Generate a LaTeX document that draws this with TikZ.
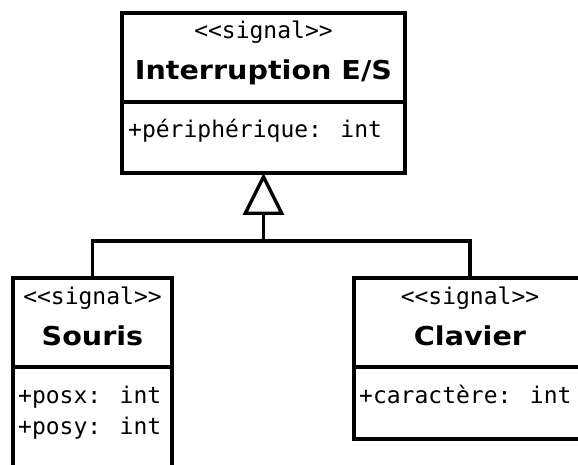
\documentclass[tikz,border=0pt]{standalone}
\usepackage{fontspec}
\setmainfont{DejaVu Sans}
\newfontfamily\umlmono{DejaVu Sans Mono}
\newfontfamily\umlname{DejaVu Sans}[FakeStretch=1.1]
\usetikzlibrary{positioning, calc, arrows.meta}

\newcommand{\sigstereo}{<\kern0pt<signal>\kern0pt>}

\tikzset{
    umlbox/.style={draw, line width=3.4pt, rectangle, inner sep=0pt, outer sep=0pt},
    stereo/.style={font=\umlmono\fontsize{23}{27}\selectfont, anchor=base, inner sep=0pt},
    classname/.style={font=\umlname\bfseries\fontsize{26}{30}\selectfont, anchor=base, inner sep=0pt},
    attr/.style={font=\umlmono\fontsize{23}{27}\selectfont, anchor=base west, inner sep=0pt},
    inherit/.style={line width=3.4pt, -{Triangle[open, length=42pt, width=41pt]}}
}

\begin{document}
\begin{tikzpicture}[x=1pt, y=-1pt]

    \useasboundingbox (0,0) rectangle (578,465);
    \clip (0,0) rectangle (578,465);

    % Parent signal class
    \node[umlbox, minimum width=283pt, minimum height=89pt, anchor=north west] (irqhead) at (122,13) {};
    \node[umlbox, minimum width=283pt, minimum height=71pt, below=0pt of irqhead] (irqbody) {};
    \node[stereo] (irqstereo) at ($(irqhead.north)+(0,26)$) {\sigstereo};
    \node[classname] (irqname) at ($(irqhead.north)+(0,67)$) {Interruption E/S};
    \node[attr] (irqattr) at ($(irqbody.north west)+(6,36)$) {+périphérique: int};

    % Child class: mouse
    \node[umlbox, minimum width=159pt, minimum height=89pt, anchor=north west] (sourishead) at (13,278) {};
    \node[umlbox, minimum width=159pt, minimum height=130pt, below=0pt of sourishead] (sourisbody) {};
    \node[stereo] (sourisstereo) at ($(sourishead.north)+(0,26)$) {\sigstereo};
    \node[classname] (sourisname) at ($(sourishead.north)+(0,67)$) {Souris};
    \node[attr] (sourisx) at ($(sourisbody.north west)+(5,36)$) {+posx: int};
    \node[attr] (sourisy) at ($(sourisbody.north west)+(5,67)$) {+posy: int};

    % Child class: keyboard
    \node[umlbox, minimum width=232pt, minimum height=89pt, anchor=north west] (clavierhead) at (354,278) {};
    \node[umlbox, minimum width=232pt, minimum height=72pt, below=0pt of clavierhead] (clavierbody) {};
    \node[stereo] (clavierstereo) at ($(clavierhead.north)+(0,26)$) {\sigstereo};
    \node[classname] (claviername) at ($(clavierhead.north)+(0,67)$) {Clavier};
    \node[attr] (clavierattr) at ($(clavierbody.north west)+(5,36)$) {+caractère: int};

    % Generalisation connectors
    \coordinate (join) at (irqbody.south |- 0,241);
    \draw[line width=3.4pt] (sourishead.north) |- (join) -| (clavierhead.north);
    \draw[inherit] (join) -- (irqbody.south);

\end{tikzpicture}
\end{document}
